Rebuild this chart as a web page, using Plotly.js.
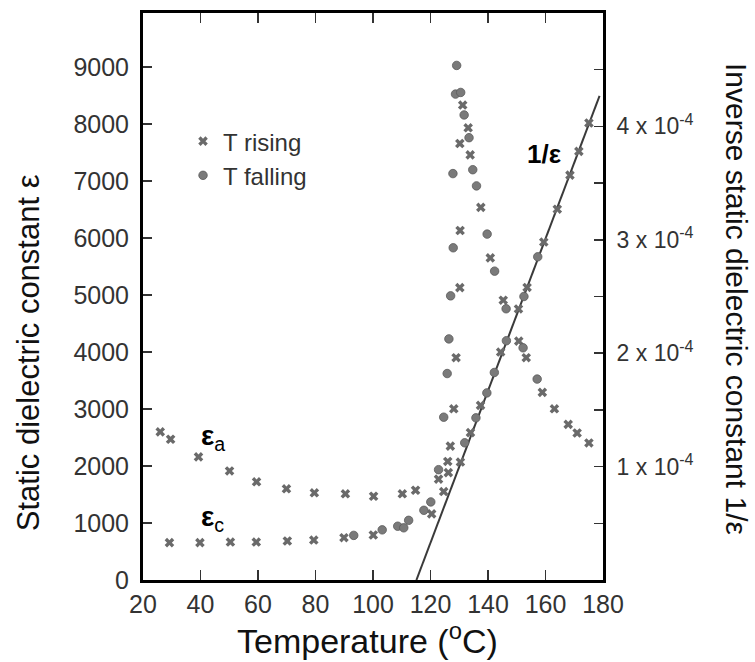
<!DOCTYPE html>
<html>
<head>
<meta charset="utf-8">
<script src="https://cdn.plot.ly/plotly-3.0.1.min.js"></script>
<style>
html,body{margin:0;padding:0;background:#fff;}
#chart{width:755px;height:662px;}
</style>
</head>
<body>
<div id="chart"></div>
<script>
// ---- data ----
// epsilon_a, T rising (x markers)
var epsA_T   = [26.0, 29.6, 39.3, 50.1, 59.5, 69.9, 79.6, 90.4, 100.2, 110.2, 114.8];
var epsA_val = [2600, 2470, 2160, 1914, 1723, 1600, 1530, 1513, 1470, 1513, 1575];

// epsilon_c, T rising (x markers)
var epsC_T   = [29.2, 39.8, 50.4, 59.4, 70.2, 79.4, 89.9, 100.1];
var epsC_val = [655, 655, 666, 666, 684, 701, 742, 790];

// transition region + paraelectric branch, T rising (x markers)
var riseT   = [120.4, 122.8, 126.2, 126.0, 126.9, 128.1, 128.9, 130.2, 130.3, 130.2, 131.2, 133.1, 133.8, 137.5, 140.8, 145.3, 150.7, 153.3, 158.9, 163.1, 167.9, 171.0, 175.1];
var riseEps = [1160, 1770, 1885, 2080, 2350, 3004, 3901, 5130, 6133, 7660, 8335, 7935, 7460, 6539, 5652, 4910, 4192, 3901, 3293, 3004, 2731, 2580, 2405];

// T falling (circle markers)
var fallT   = [93.3, 103.2, 108.6, 110.7, 112.4, 117.7, 120.1, 122.8, 124.6, 125.8, 126.4, 127.0, 127.9, 127.8, 128.7, 130.5, 129.1, 131.7, 133.4, 134.7, 136.0, 139.7, 142.3, 146.3, 152.2, 157.1];
var fallEps = [783, 880, 944, 916, 1047, 1223, 1370, 1936, 2857, 3623, 4231, 4986, 5830, 7132, 8527, 8556, 9030, 8161, 7762, 7200, 6916, 6070, 5420, 4760, 4075, 3526];

// inverse dielectric constant 1/eps (right axis), rising (x) and falling (circles)
var invRiseT   = [124.6, 130.4, 133.9, 137.4, 144.4, 150.6, 153.6, 159.4, 164.1, 168.5, 171.6, 175.1];
var invRiseVal = [0.78e-4, 1.04e-4, 1.30e-4, 1.54e-4, 2.01e-4, 2.39e-4, 2.58e-4, 2.98e-4, 3.27e-4, 3.57e-4, 3.78e-4, 4.03e-4];
var invFallT   = [131.9, 135.8, 139.6, 142.2, 146.4, 152.5, 157.3];
var invFallVal = [1.21e-4, 1.43e-4, 1.65e-4, 1.83e-4, 2.11e-4, 2.50e-4, 2.85e-4];

// Curie-Weiss fit line
var fitT   = [115.1, 178.8];
var fitInv = [0, 4.27e-4];

// axis ticks
var xTicks  = [20, 40, 60, 80, 100, 120, 140, 160, 180];
var yTicks  = [0, 1000, 2000, 3000, 4000, 5000, 6000, 7000, 8000, 9000];
var y2Ticks = [0.5e-4, 1e-4, 1.5e-4, 2e-4, 2.5e-4, 3e-4, 3.5e-4, 4e-4, 4.5e-4];
var y2Text  = ['', '1 x 10<sup>-4</sup>', '', '2 x 10<sup>-4</sup>', '', '3 x 10<sup>-4</sup>', '', '4 x 10<sup>-4</sup>', ''];

// ---- styles ----
var FONT = 'Liberation Sans, Arial, sans-serif';
var xMark = {symbol: 'x', size: 8.5, color: '#6a6a6a', line: {width: 0}};
var oMark = {symbol: 'circle', size: 8.5, color: '#7a7a7a', line: {width: 0.8, color: '#5a5a5a'}};

var traces = [
  {x: fitT, y: fitInv, yaxis: 'y2', mode: 'lines', line: {color: '#3a3a3a', width: 2}, showlegend: false, hoverinfo: 'skip'},
  {x: epsA_T, y: epsA_val, mode: 'markers', marker: xMark, name: 'T rising', showlegend: true, legendrank: 1},
  {x: epsC_T, y: epsC_val, mode: 'markers', marker: xMark, showlegend: false},
  {x: riseT, y: riseEps, mode: 'markers', marker: xMark, showlegend: false},
  {x: fallT, y: fallEps, mode: 'markers', marker: oMark, name: 'T falling', showlegend: true, legendrank: 2},
  {x: invRiseT, y: invRiseVal, yaxis: 'y2', mode: 'markers', marker: xMark, showlegend: false},
  {x: invFallT, y: invFallVal, yaxis: 'y2', mode: 'markers', marker: oMark, showlegend: false}
];

var layout = {
  width: 755, height: 662,
  margin: {l: 143, r: 152, t: 13, b: 82},
  paper_bgcolor: '#fff', plot_bgcolor: '#fff',
  font: {family: FONT, color: '#333'},
  showlegend: true,
  legend: {x: 0.087, y: 0.813, xanchor: 'left', yanchor: 'top', bgcolor: 'rgba(0,0,0,0)',
           font: {size: 24, color: '#333', family: FONT}, tracegroupgap: 0, itemwidth: 30},
  xaxis: {
    range: [20, 180], tickmode: 'array', tickvals: xTicks,
    ticks: 'inside', ticklen: 10, tickwidth: 1.5, tickcolor: '#333',
    showline: true, linewidth: 3, linecolor: '#000', mirror: 'ticks',
    showgrid: false, zeroline: false,
    tickfont: {size: 25, color: '#333', family: FONT}
  },
  yaxis: {
    range: [0, 9950], tickmode: 'array', tickvals: yTicks,
    ticks: 'inside', ticklen: 9, tickwidth: 1.5, tickcolor: '#333',
    showline: true, linewidth: 3, linecolor: '#000',
    showgrid: false, zeroline: false, ticklabelstandoff: 6,
    tickfont: {size: 25, color: '#333', family: FONT}
  },
  yaxis2: {
    overlaying: 'y', side: 'right', range: [0, 5e-4],
    tickmode: 'array', tickvals: y2Ticks, ticktext: y2Text,
    ticks: 'inside', ticklen: 9, tickwidth: 1.5, tickcolor: '#333',
    showline: true, linewidth: 3, linecolor: '#000',
    showgrid: false, zeroline: false, ticklabelstandoff: 6,
    tickfont: {size: 23, color: '#333', family: FONT}
  },
  annotations: [
    {text: 'Temperature (<sup>o</sup>C)', xref: 'paper', yref: 'paper', x: 0.489, y: -0.144, xanchor: 'center', yanchor: 'bottom',
     showarrow: false, font: {size: 34, color: '#111', family: FONT}},
    {text: 'Static dielectric constant ε', xref: 'paper', yref: 'paper', x: -0.25, y: 0.4, xanchor: 'center', yanchor: 'middle',
     textangle: -90, showarrow: false, font: {size: 31, color: '#111', family: FONT}},
    {text: 'Inverse static dielectric constant 1/ε', xref: 'paper', yref: 'paper', x: 1.29, y: 0.495, xanchor: 'center', yanchor: 'middle',
     textangle: 90, showarrow: false, font: {size: 30, color: '#111', family: FONT}},
    {text: '<b>ε</b><sub>a</sub>', x: 39.5, y: 2500, xanchor: 'left', yanchor: 'middle', showarrow: false,
     font: {size: 28, color: '#000', family: FONT}},
    {text: '<b>ε</b><sub>c</sub>', x: 39.5, y: 1080, xanchor: 'left', yanchor: 'middle', showarrow: false,
     font: {size: 28, color: '#000', family: FONT}},
    {text: '<b>1/ε</b>', x: 159.5, y: 7480, xanchor: 'center', yanchor: 'middle', showarrow: false,
     font: {size: 26, color: '#000', family: FONT}}
  ]
};

Plotly.newPlot('chart', traces, layout, {displayModeBar: false, staticPlot: true});
</script>
</body>
</html>
